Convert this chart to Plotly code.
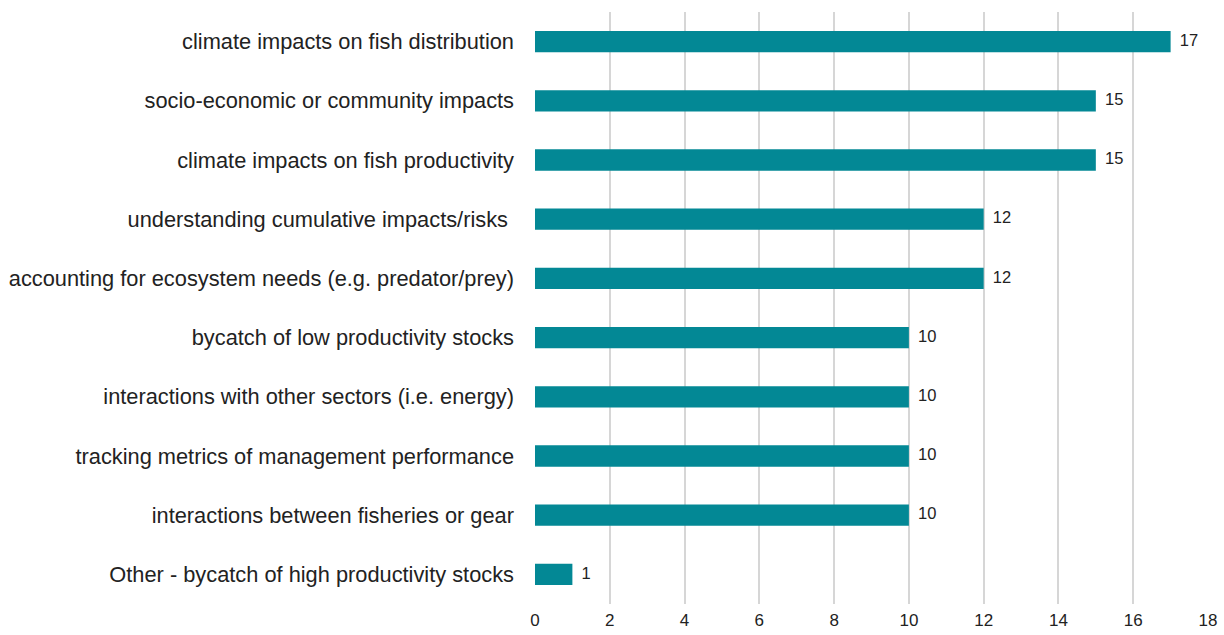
import plotly.graph_objects as go

categories = [
    "climate impacts on fish distribution",
    "socio-economic or community impacts",
    "climate impacts on fish productivity",
    "understanding cumulative impacts/risks ",
    "accounting for ecosystem needs (e.g. predator/prey)",
    "bycatch of low productivity stocks",
    "interactions with other sectors (i.e. energy)",
    "tracking metrics of management performance",
    "interactions between fisheries or gear",
    "Other - bycatch of high productivity stocks",
]
values = [17, 15, 15, 12, 12, 10, 10, 10, 10, 1]
tick_vals = [0, 2, 4, 6, 8, 10, 12, 14, 16, 18]

fig = go.Figure()
fig.add_trace(go.Bar(
    x=values,
    y=categories,
    orientation="h",
    marker=dict(color="#038895", line=dict(width=0)),
    width=0.36,
    hoverinfo="x+y",
))
fig.add_trace(go.Scatter(
    x=values,
    y=categories,
    mode="text",
    text=["\u00a0\u00a0" + str(v) for v in values],
    textposition="middle right",
    textfont=dict(family="Liberation Sans, Arial", size=16.5, color="#222222"),
    cliponaxis=False,
    hoverinfo="skip",
))

fig.update_layout(
    width=1224, height=635,
    margin=dict(l=535, r=16, t=12, b=31, autoexpand=False),
    paper_bgcolor="white", plot_bgcolor="white",
    showlegend=False,
    font=dict(family="Liberation Sans, Arial", color="#222222"),
)
fig.update_xaxes(
    range=[0, 18], tickvals=tick_vals,
    showgrid=True, gridcolor="#d6d6d6", gridwidth=1.5,
    zeroline=False, showline=False,
    tickfont=dict(size=17, color="#222222"),
    ticks="", ticklabelstandoff=4, automargin=False,
)
fig.update_yaxes(
    autorange="reversed",
    showgrid=False, zeroline=False, showline=False,
    tickfont=dict(size=21.8, color="#222222"),
    ticks="", ticklabelstandoff=20, automargin=False,
)

fig.write_html("out.html")
